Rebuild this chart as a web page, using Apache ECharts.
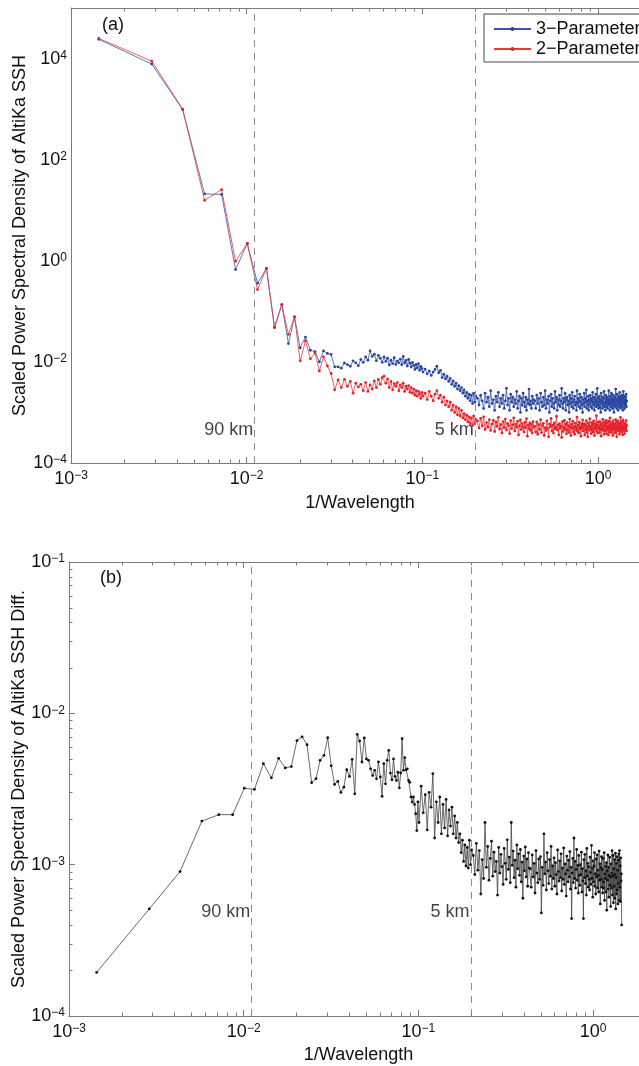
<!DOCTYPE html>
<html><head><meta charset="utf-8">
<script src="https://cdn.jsdelivr.net/npm/echarts@6/dist/echarts.min.js"></script>
<style>html,body{margin:0;padding:0;background:#fff}#c{width:639px;height:1066px}</style>
</head><body><div id="c"></div><script>
// ---------------- DATA ----------------
// frequency step (cycles per km); point k sits at k*DF
const DF = 0.00144;
const cutoffKm = [90, 5];
const kSeg1 = [1,2,3,4,5,6,7,8,9,10,11,12,13,14,15,16,17,18,19,20,21,22,23,24,25,26,27,28,29,30,31,32,33,34,35,36,37,38,39,40,41,42,43,44,45,46,47,48,49,50,51,52,53,54,55,56,57,58,59,60,61,62,63,64,65,66,67,68,69,70];
const kSeg2 = [72,74,76,78,80,82,84,86,88,90,92,94,96,98,100,102,104,106,108,110,112,114,116,118,120,122,124,126,128,130,132,134,136,138,140];
const kSeg3 = [143,146,149,152,155,158,161,164,167,170,173,176,179,182,185,188,191,194,197,200,203,206,209,212,215,218,221,224,227,230,233,236,239,242,245,248,251,254,257,260,263,266,269,272,275,278,281,284,287,290,293,296,299];
const kSeg4 = [303,307,311,315,319,323,327,331,335,339,343,347,351,355,359,363,367,371,375,379,383,387,391,395,399,403,407,411,415,419,423,427,431,435,439,443,447,451,455,459,463,467,471,475,479,483,487,491,495,499,503,507,511,515,519,523,527,531,535,539,543,547,551,555,559,563,567,571,575,579,583,587,591,595,599,603,607,611,615,619,623,627,631,635,639,643,647,651,655,659,663,667,671,675,679,683,687,691,695,699,703,707,711,715,719,723,727,731,735,739,743,747,751,755,759,763,767,771,775,779,783,787,791,795,799,803,807,811,815,819,823,827,831,835,839,843,847,851,855,859,863,867,871,875,879,883,887,891,895,899,903,907,911,915,919,923,927,931,935,939,943,947,951,955,959,963,967,971,975,979,983,987,991,995,999,1003,1007,1011];

// (a) 3-Parameter
const p3Low = [2.4e4,7.8e3,980,21,20.5,0.67,2.2,0.36,0.71,0.048,
 0.136,0.023,0.078,0.019,0.031,0.017,0.016,0.010,0.0165,0.0147,
 0.014,0.008,0.008,0.0075,0.0095,0.0088,0.0082,0.0105,0.0096,0.0084,
 0.0112,0.0098,0.0125,0.0108,0.0165,0.0128,0.0142,0.0105,0.0135,0.0118,
 0.0098,0.0125,0.0102,0.0118,0.0087,0.0108,0.0092,0.0121,0.0089,0.0104,
 0.0096,0.0113,0.0088,0.0128,0.0095,0.0107,0.0083,0.0112,0.0094,0.0079,
 0.0098,0.0085,0.0071,0.0089,0.0076,0.0092,0.0068,0.0081,0.0074,0.0063];
const p3Mid = [0.0072,0.0058,0.0066,0.0054,0.0063,0.0071,0.0082,0.0061,0.0068,0.0049,
 0.0057,0.0046,0.0052,0.0041,0.0047,0.0036,0.0042,0.0033,0.0038,0.0029,
 0.0034,0.0027,0.0031,0.0024,0.0028,0.0021,0.0025,0.0019,0.0023,0.0017,
 0.0022,0.0015,0.0024,0.0016,0.0021];
// values in units of 1e-4
const p3Band3 = [19,14,22,17,12,24,16,20,13,27, 15,18,11,21,16,25,13,19,15,22, 12,17,30,14,19,11,23,16,20,13,
 18,15,26,12,17,21,10,19,14,24, 16,13,20,11,18,15,29,14,17,12, 21,15,18];
const p3Band4 = [17,12,22,15,19,11,24,16,13,20, 14,27,12,18,15,21,10,17,23,13, 19,15,12,26,16,20,11,18,14,22,
 13,17,30,15,12,19,16,24,11,18, 20,14,17,10,22,15,19,13,25,16, 12,18,21,14,16,11,27,15,19,13,
 17,23,12,16,20,14,10,18,15,24, 13,19,16,28,12,17,14,21,11,18, 15,22,13,17,19,12,25,16,14,20,
 11,18,15,23,13,17,30,14,19,12, 16,21,13,18,10,24,15,17,12,20, 14,19,26,13,16,11,22,15,18,13,
 20,12,17,15,27,14,18,11,21,16, 13,24,15,19,12,17,22,14,10,18, 16,20,13,29,15,18,12,23,14,17,
 11,19,16,21,13,25,15,18,12,20, 14,17,22,13,19,11,26,16,15,21, 12,18,14,20,16,23,13,17];

// (a) 2-Parameter
const p2Low = [2.5e4,8.9e3,1000,15.7,25.5,0.98,2.2,0.27,0.71,0.048,
 0.136,0.035,0.078,0.0105,0.026,0.0115,0.015,0.0066,0.0126,0.0083,
 0.0059,0.0028,0.0044,0.0031,0.0045,0.0033,0.0041,0.0024,0.0038,0.0032,
 0.0036,0.0027,0.0039,0.0026,0.0035,0.0029,0.0042,0.0031,0.0045,0.0036,
 0.0049,0.0052,0.0038,0.0046,0.0031,0.0041,0.0028,0.0037,0.0033,0.0039,
 0.0027,0.0035,0.0031,0.0038,0.0026,0.0033,0.0029,0.0034,0.0025,0.0031,
 0.0024,0.0029,0.0022,0.0027,0.0021,0.0026,0.0023,0.0019,0.0025,0.0021];
const p2Mid = [0.0024,0.0018,0.0026,0.0021,0.0017,0.0023,0.0027,0.0019,0.0022,0.0016,
 0.0020,0.0014,0.0017,0.0013,0.0016,0.0011,0.0014,0.0010,0.0013,0.0009,
 0.0012,0.00085,0.0011,0.00078,0.00095,0.00072,0.00088,0.00065,0.00082,0.0006,
 0.00078,0.00055,0.00085,0.0006,0.00072];
const p2Band3 = [6.8,4.9,7.6,5.4,8.2,4.6,6.3,5.1,7.2,4.4, 5.9,7.0,4.2,6.5,5.3,8.0,4.7,5.8,3.9,6.6,
 5.0,7.4,4.5,6.1,5.5,3.8,6.9,4.8,5.7,7.8, 4.3,5.9,5.1,6.7,3.6,5.4,7.1,4.6,6.0,5.2,
 4.1,6.4,5.0,7.5,3.4,5.6,4.8,6.2,4.4,5.8, 3.9,6.6,5.1];
const p2Band4 = [5.3,4.1,6.5,3.7,5.8,4.6,7.2,4.0,5.5,6.1, 3.5,5.0,4.4,6.8,4.8,3.3,5.9,5.2,7.6,4.3,
 5.6,3.9,6.2,4.7,5.1,8.4,4.5,5.7,3.6,6.0, 4.9,5.4,3.2,6.6,4.2,5.0,7.0,4.6,5.8,3.8,
 6.3,4.4,5.5,4.0,7.4,5.1,3.5,5.9,4.8,6.7, 4.1,5.3,3.7,6.1,5.0,4.5,8.1,4.2,5.6,3.9,
 6.4,4.7,5.2,3.4,5.9,4.9,7.1,4.3,5.4,6.0, 3.6,5.7,4.6,6.9,4.0,5.1,3.3,6.2,5.5,4.4,
 7.5,4.8,5.3,3.8,6.3,4.5,5.8,4.1,6.8,5.0, 3.5,6.0,4.7,5.4,8.6,4.2,5.6,3.9,6.5,4.9,
 5.2,4.0,6.6,4.6,5.7,3.4,6.1,5.0,4.4,7.3, 4.8,5.5,3.7,6.4,4.3,5.9,4.9,7.0,3.8,5.3,
 6.2,4.5,5.1,3.6,6.7,5.4,4.1,7.8,4.7,5.6, 4.0,6.3,5.0,4.4,5.8,3.5,6.9,4.8,5.2,6.0,
 3.9,5.7,4.6,7.2,4.2,5.5,3.3,6.4,5.1,4.7, 6.8,4.3,5.9,4.9,3.7,6.1,5.3,8.0,4.5,5.6,
 4.1,6.6,4.8,5.4,3.6,7.1,5.0,4.4,6.2,5.2, 3.8,6.0,4.6,5.7,4.9,6.9,4.3,5.5];

// (b) difference
const dLow = [1.94e-4,5.1e-4,9.0e-4,1.94e-3,2.14e-3,2.14e-3,3.2e-3,3.14e-3,4.65e-3,3.75e-3,
 5.04e-3,4.36e-3,4.45e-3,6.6e-3,7.0e-3,6.2e-3,3.48e-3,3.7e-3,4.89e-3,5.27e-3,
 6.9e-3,4.5e-3,3.39e-3,3.55e-3,3.0e-3,3.25e-3,4.24e-3,3.83e-3,4.96e-3,2.94e-3,
 7.26e-3,6.56e-3,4.77e-3,6.87e-3,5.0e-3,4.89e-3,4.3e-3,3.88e-3,4.2e-3,3.69e-3,
 4.77e-3,3.8e-3,2.83e-3,4.65e-3,3.42e-3,4.89e-3,5.69e-3,4.03e-3,3.64e-3,5.0e-3,
 3.83e-3,3.6e-3,4.08e-3,3.22e-3,4.04e-3,6.8e-3,4.2e-3,5.1e-3,4.24e-3,4.3e-3,
 3.6e-3,3.5e-3,2.8e-3,2.59e-3,2.8e-3,2.5e-3,2.17e-3,1.68e-3,2.6e-3,1.9e-3];
const dMid = [3.3e-3,2.2e-3,2.9e-3,1.7e-3,3.0e-3,2.4e-3,4.0e-3,1.5e-3,2.6e-3,1.9e-3,
 2.8e-3,1.6e-3,2.5e-3,1.75e-3,2.7e-3,1.55e-3,2.3e-3,1.8e-3,2.4e-3,1.6e-3,
 2.1e-3,1.5e-3,1.9e-3,1.4e-3,1.6e-3,1.2e-3,1.45e-3,1.05e-3,1.35e-3,0.98e-3,
 1.3e-3,0.95e-3,1.45e-3,1.0e-3,1.25e-3];
const dBand3 = [11.5,8.6,13.8,9.2,12.4,6.4,10.8,8.1,19.0,9.6, 13.2,7.9,11.0,14.3,8.4,12.1,9.0,10.5,6.3,13.0,
 8.8,11.7,9.7,7.4,12.8,10.2,8.0,14.6,9.3,11.2, 7.6,19.0,9.9,12.3,8.2,10.7,7.1,13.5,9.4,11.8,
 8.5,12.6,7.7,10.4,6.0,11.4,9.1,13.1,8.3,10.9, 7.2,12.0,9.5];
const dBand4 = [9.4,7.1,11.6,8.3,10.2,6.5,12.4,8.8,7.6,10.9, 8.0,11.3,4.8,9.6,7.3,16.0,8.7,10.4,6.8,12.0,
 9.1,7.5,10.8,8.4,13.2,6.9,9.8,8.1,11.1,7.2, 10.3,8.6,6.4,12.5,9.0,7.8,10.6,8.2,11.8,6.7,
 9.5,8.0,12.9,7.4,10.1,8.7,6.2,11.4,9.2,7.7, 10.7,8.3,12.2,6.9,9.6,4.4,8.8,11.0,7.6,15.0,
 8.1,10.5,7.0,9.3,12.6,7.9,9.9,6.5,11.5,8.5, 7.3,10.0,8.6,12.1,6.6,9.4,7.8,4.4,10.8,8.2,
 11.7,7.5,9.1,6.3,12.8,8.4,10.2,7.1,9.7,8.0, 6.8,11.2,8.9,7.4,13.4,8.1,9.5,6.1,10.6,7.7,
 9.8,12.0,7.2,8.7,6.4,10.9,8.3,11.6,7.0,9.2, 8.5,6.6,12.3,7.9,10.1,5.5,9.6,8.0,11.3,7.1,
 9.3,6.5,11.0,7.7,7.0,12.0,5.8,8.7,8.1,9.8, 6.6,10.3,5.0,9.1,7.9,11.6,6.9,9.6,6.1,8.5,
 11.2,7.3,8.3,5.3,10.1,7.0,8.8,12.4,6.3,8.4, 11.5,5.6,9.4,7.2,10.8,6.0,8.6,11.9,5.1,8.2,
 10.2,6.4,11.3,6.8,9.2,5.5,10.7,7.5,11.8,5.8, 12.4,7.1,9.8,5.7,11.1,7.8,8.7,4.0];

// ---------------- BUILD ----------------
function build(ks, vs, unit) {
  const out = []; const n = Math.min(ks.length, vs.length);
  for (let i = 0; i < n; i++) out.push([ks[i] * DF, vs[i] * unit]);
  return out;
}
function series4(a, b, c, d) {
  return [].concat(build(kSeg1, a, 1), build(kSeg2, b, 1), build(kSeg3, c, 1e-4), build(kSeg4, d, 1e-4));
}
const p3Data = series4(p3Low, p3Mid, p3Band3, p3Band4);
const p2Data = series4(p2Low, p2Mid, p2Band3, p2Band4);
const dData = series4(dLow, dMid, dBand3, dBand4);

const FONT = '"Liberation Sans", Arial, Helvetica, sans-serif';
const AX = '#7a7a7a';
const TXT = '#111';
const FS = 18;
const XMIN = 0.001;
const XMAX_A = 1.71, XMAX_B = 1.83;   // visible right end of each panel (frame is cut by the page edge)

function supLabel(v) {
  const e = Math.log10(v), r = Math.round(e);
  if (Math.abs(e - r) > 1e-6) return '';
  return '{b|10}{e|' + (r < 0 ? '\u2212' + (-r) : String(r)) + '}';
}
function evenSupLabel(v) {
  const e = Math.log10(v), r = Math.round(e);
  if (Math.abs(e - r) > 1e-6 || r % 2 !== 0 || r > 4) return '';
  return supLabel(v);
}
const rich = {
  b: { fontSize: FS, fontFamily: FONT, color: TXT, lineHeight: 18, verticalAlign: 'bottom' },
  e: { fontSize: 12, fontFamily: FONT, color: TXT, lineHeight: 12, padding: [0, 0, 11, 0], verticalAlign: 'top' }
};

function xAxisPair(gridIndex, xmax, gap, shift) {
  return [{
    type: 'log', logBase: 10, gridIndex, min: XMIN, max: xmax, position: 'bottom',
    name: '1/Wavelength', nameLocation: 'middle', nameGap: gap, nameMoveOverlap: false,
    nameTextStyle: { fontSize: FS, fontFamily: FONT, color: TXT, padding: [0, 0, 0, shift] },
    axisLine: { show: true, lineStyle: { color: AX, width: 1 } },
    axisTick: { show: true, inside: true, length: 6, lineStyle: { color: AX } },
    axisLabel: { margin: 7, formatter: supLabel, rich: rich, showMaxLabel: false },
    splitLine: { show: false }
  }, {
    type: 'log', logBase: 10, gridIndex, min: XMIN, max: xmax, position: 'top',
    axisLine: { show: true, lineStyle: { color: AX, width: 1 } },
    axisTick: { show: true, inside: true, length: 6, lineStyle: { color: AX } },
    axisLabel: { show: false }, splitLine: { show: false }
  }];
}

function minorVals(lo, hi) {
  const out = [];
  for (let d = Math.floor(Math.log10(lo)); d <= Math.ceil(Math.log10(hi)); d++)
    for (let m = 2; m <= 9; m++) { const v = m * Math.pow(10, d); if (v > lo * 1.0001 && v < hi) out.push(v); }
  return out;
}
function minorTicks(xi, yi, dir, ref, lo, hi) {
  const data = minorVals(lo, hi).map(v => dir === 'x' ? [v, ref] : [ref, v]);
  return {
    type: 'custom', xAxisIndex: xi, yAxisIndex: yi, silent: true, z: 5, data,
    renderItem: function (params, api) {
      const cs = params.coordSys; const L = 3.5;
      const p = api.coord([api.value(0), api.value(1)]);
      const st = { stroke: AX, lineWidth: 1 };
      if (dir === 'x') {
        const x = Math.round(p[0]) + 0.5;
        return { type: 'group', children: [
          { type: 'line', shape: { x1: x, y1: cs.y + cs.height, x2: x, y2: cs.y + cs.height - L }, style: st },
          { type: 'line', shape: { x1: x, y1: cs.y, x2: x, y2: cs.y + L }, style: st }] };
      }
      const y = Math.round(p[1]) + 0.5;
      return { type: 'line', shape: { x1: cs.x, y1: y, x2: cs.x + L, y2: y }, style: st };
    }
  };
}

function cutoffSeries(xi, yi, labelY) {
  return {
    type: 'scatter', xAxisIndex: xi, yAxisIndex: yi, z: 1, silent: true,
    symbolSize: 1, itemStyle: { color: 'rgba(0,0,0,0)' },
    label: { show: true, position: 'left', distance: 1, formatter: p => p.name,
      fontSize: FS, fontFamily: FONT, color: TXT },
    data: cutoffKm.map(km => ({ name: km + ' km', value: [1 / km, labelY] })),
    markLine: { silent: true, precision: 8, symbol: ['none', 'none'], label: { show: false },
      lineStyle: { type: [7, 6], color: '#8c8c8c', width: 1 },
      data: cutoffKm.map(km => ({ xAxis: 1 / km })) }
  };
}

const option = {
  animation: false,
  backgroundColor: '#fff',
  textStyle: { fontFamily: FONT },
  grid: [
    { left: 71, top: 8, width: 568, height: 455, outerBoundsMode: 'none', containLabel: false },
    { left: 69, top: 562, width: 570, height: 454, outerBoundsMode: 'none', containLabel: false }
  ],
  legend: {
    data: ['3\u2212Parameter', '2\u2212Parameter'],
    orient: 'vertical', left: 484, top: 14,
    padding: [5, 8, 3, 9], itemGap: 0, itemWidth: 37, itemHeight: 5,
    backgroundColor: '#fff', borderColor: '#444', borderWidth: 1, borderRadius: 0,
    textStyle: { fontSize: FS, fontFamily: FONT, color: TXT, lineHeight: 20 }
  },
  xAxis: [].concat(xAxisPair(0, XMAX_A, 31, 10), xAxisPair(1, XMAX_B, 30, 9)),
  yAxis: [{
    type: 'log', logBase: 10, gridIndex: 0, min: 1e-4, max: 1e5,
    name: 'Scaled Power Spectral Density of AltiKa SSH', nameLocation: 'middle', nameGap: 41.5, nameMoveOverlap: false,
    nameTextStyle: { fontSize: FS, fontFamily: FONT, color: TXT },
    axisLine: { show: true, lineStyle: { color: AX } },
    axisTick: { show: false },
    axisLabel: { margin: 4, formatter: evenSupLabel, rich: rich },
    splitLine: { show: false }
  }, {
    type: 'log', logBase: 10, gridIndex: 1, min: 1e-4, max: 1e-1,
    name: 'Scaled Power Spectral Density of AltiKa SSH Diff.', nameLocation: 'middle', nameGap: 40.5, nameMoveOverlap: false,
    nameTextStyle: { fontSize: FS, fontFamily: FONT, color: TXT },
    axisLine: { show: true, lineStyle: { color: AX } },
    axisTick: { show: true, inside: true, length: 6, lineStyle: { color: AX } },
    axisLabel: { margin: 4, formatter: supLabel, rich: rich },
    splitLine: { show: false }
  }],
  graphic: [
    { type: 'text', left: 102, top: 16, style: { text: '(a)', fontSize: FS, fontFamily: FONT, fill: TXT } },
    { type: 'text', left: 100, top: 569, style: { text: '(b)', fontSize: FS, fontFamily: FONT, fill: TXT } }
  ],
  series: [
    cutoffSeries(0, 0, 4.5e-4),
    cutoffSeries(2, 1, 4.9e-4),
    {
      name: '3\u2212Parameter', type: 'line', xAxisIndex: 0, yAxisIndex: 0, z: 3,
      data: p3Data, symbol: 'circle', symbolSize: 2.8, showSymbol: true,
      lineStyle: { color: '#3a55a8', width: 0.8 }, itemStyle: { color: '#2a45a0' }
    },
    {
      name: '2\u2212Parameter', type: 'line', xAxisIndex: 0, yAxisIndex: 0, z: 3,
      data: p2Data, symbol: 'circle', symbolSize: 2.8, showSymbol: true,
      lineStyle: { color: '#e8373d', width: 0.8 }, itemStyle: { color: '#e3222a' }
    },
    {
      name: 'diff', type: 'line', xAxisIndex: 2, yAxisIndex: 1, z: 3,
      data: dData, symbol: 'circle', symbolSize: 2.8, showSymbol: true,
      lineStyle: { color: '#444', width: 0.8 }, itemStyle: { color: '#111' }
    },
    minorTicks(0, 0, 'x', 1, XMIN, XMAX_A),
    minorTicks(2, 1, 'x', 1e-2, XMIN, XMAX_B),
    minorTicks(2, 1, 'y', 0.01, 1e-4, 1e-1)
  ]
};
const chart = echarts.init(document.getElementById('c'), null, { renderer: 'canvas' });
chart.setOption(option);
</script></body></html>
